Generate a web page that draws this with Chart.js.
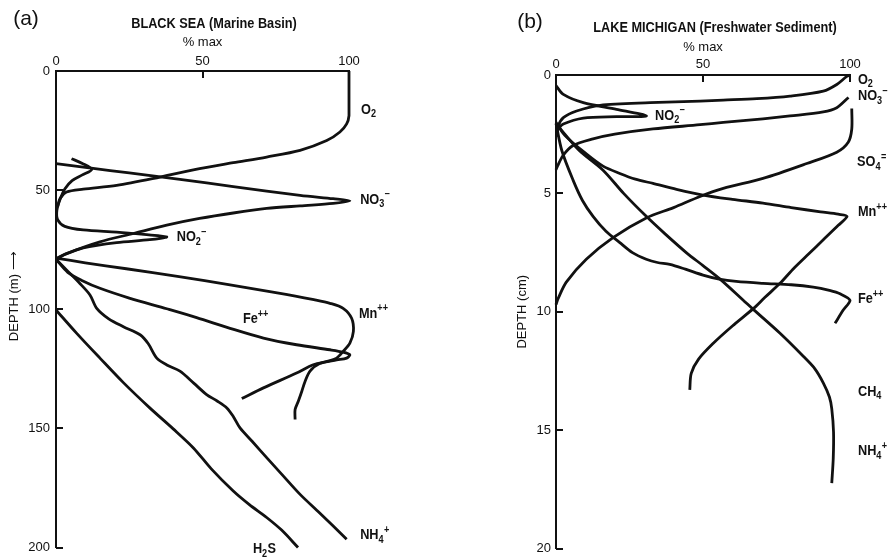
<!DOCTYPE html>
<html><head><meta charset="utf-8">
<script src="https://cdn.jsdelivr.net/npm/chart.js@4/dist/chart.umd.min.js"></script>
<style>
html,body{margin:0;padding:0;background:#fff;}
#wrap{position:relative;width:890px;height:560px;overflow:hidden;background:#fff;}
canvas{position:absolute;top:0;}
#ca{left:0;} #cb{left:445px;}
</style></head><body>
<div id="wrap"><canvas id="ca" width="445" height="560"></canvas><canvas id="cb" width="445" height="560"></canvas></div>
<script>
// ---------- DATA : panel (a) Black Sea, [% max, depth m] ----------
const pctTicks = [0, 50, 100];
const depthTicksA = [0, 50, 100, 150, 200];
const depthTicksB = [0, 5, 10, 15, 20];

const o2A  = [[100,0],[100,10],[100,18.7],[99.2,22.2],[96.9,25.6],[92.4,29.2],[83.3,33.3],[71.9,36.1],[60.5,38.5],[49,41],[35.5,44.5],[20.7,48],[9.3,49.6],[3.6,50.8],[1.4,53.5],[0.5,57]];
const no3A = [[0,38.9],[12,40.8],[25,42.8],[42.3,45.5],[60.5,48.5],[83.3,52.2],[94.6,53.6],[100.3,54.5],[94.6,55.6],[83.3,56.6],[71.9,57.7],[60.5,59.6],[49,61.9],[37.8,64.7],[26.4,68.2],[15,71.7],[3.6,76.6],[0,78.7]];
const no2A = [[5.3,36.8],[9,38.8],[12.2,41.3],[9,43.6],[5.5,46],[3,49.5],[1.5,53.5],[0.3,58.5],[0.6,62.5],[3,65.2],[9.3,66.7],[20.7,67.6],[30,68.6],[37.8,69.6],[32,70.8],[20.7,72],[9.3,74.2],[3,77],[0,79]];
const mnA  = [[0,78.5],[10,80.5],[24,83],[42,86.3],[59.4,89.8],[76.5,93.3],[88,96],[93.5,97.5],[98,99.6],[100.9,103.8],[101.5,109.3],[100.3,114.2],[98,117.7],[95.8,120.5],[93.5,121.6],[87.8,123.3],[82.1,126.8],[70.8,133],[63.4,137.5]];
const feA  = [[0,79],[4,84.5],[9,88],[15,91.2],[25,95.3],[37.8,99.8],[48,103.5],[59.4,108],[70.8,112.1],[82.1,114.9],[93.5,117],[98,118],[100.3,119.1],[99.2,120.5],[95.8,121.3],[90,122.8],[86.7,126],[85,130.3],[83.9,134.4],[82.7,138.6],[81.6,142.1],[81.6,146.3]];
const nh4A = [[0,79],[4,84],[8,89],[11.6,94],[13.9,99.6],[18,104],[23,107.3],[28.7,110.7],[31.5,114.5],[34.4,120.5],[38,123.5],[42.3,126],[47,131],[51.4,135.8],[55,138.5],[58.3,141.4],[60.5,145],[62.8,149.8],[67,155.5],[71.9,162.3],[77,169.2],[83.3,177.7],[90,185.5],[99.2,196.5]];
const h2sA = [[0,100.3],[7,110],[15,120.5],[23,130.8],[32,141.4],[40,150.2],[46.9,158.2],[53,167],[60.5,176.3],[66,182],[71.9,187.4],[77,192.7],[82.6,200]];

// ---------- DATA : panel (b) Lake Michigan, [% max, depth cm] ----------
const o2B  = [[100,0],[98.9,0.06],[95.5,0.4],[90.9,0.68],[79.6,0.89],[68.3,1.0],[56.9,1.06],[49,1.1],[32,1.17],[15,1.28],[7,1.52],[2.5,1.8],[0.8,2.14],[0.2,2.6]];
const no3B = [[99.5,0.95],[95.5,1.38],[90.9,1.56],[79.6,1.73],[70.4,1.85],[56.9,2.0],[49,2.1],[33,2.28],[20,2.5],[12.6,2.7],[5.8,2.98],[2.4,3.4],[0.5,3.85],[0,4.0]];
const no2B = [[0,0.45],[2.5,0.82],[9.3,1.17],[20.6,1.45],[30.8,1.73],[20.6,1.76],[9.3,1.82],[2.5,2.07],[0.5,2.3]];
const so4B = [[100.6,1.42],[100.6,2.28],[99.4,2.84],[95.5,3.26],[85.3,3.74],[70.4,4.37],[56.9,4.79],[49,5.13],[40,5.6],[30.7,6.04],[19.4,6.87],[10.3,7.78],[3.5,8.75],[0.7,9.45],[0,9.7]];
const mnB  = [[0,2.0],[3,2.55],[10.3,3.33],[16,3.85],[21.7,4.16],[27,4.4],[33,4.58],[41,4.83],[50,5.07],[60,5.25],[70.4,5.41],[80,5.6],[90,5.78],[96,5.88],[99,5.97],[96,6.35],[91,6.95],[86,7.55],[81,8.15],[76.2,8.8],[71,9.4],[67.1,9.87],[60,10.6],[53.5,11.33],[48.5,12.0],[46,12.6],[45.5,13.3]];
const feB  = [[0,2.05],[2,3.2],[5.8,4.44],[9,5.3],[12.6,5.97],[17,6.6],[21.7,7.08],[26,7.5],[30.7,7.78],[34.5,7.92],[38.7,8.0],[44,8.2],[50,8.45],[55.5,8.62],[61.3,8.72],[70.4,8.8],[80,8.86],[87.5,8.96],[93,9.1],[96.6,9.24],[100,9.52],[97.7,9.93],[94.9,10.49]];
const nh4B = [[0,2.05],[3,2.5],[8,3.2],[16,4.02],[23,5.0],[30.7,5.97],[37,6.7],[44.3,7.5],[50,8.05],[55.7,8.61],[63.6,9.5],[67.1,9.9],[76.2,10.91],[84.1,11.88],[88,12.4],[90.9,13.0],[93,13.6],[93.8,14.1],[94.4,15.08],[94.3,16.2],[93.8,17.24]];

// ---------- curve labels: text pieces (0 normal, 1 subscript, 2 superscript) at [% max, depth] ----------
const labelsA = [
  {parts:[['O',0],['2',1]], at:[104.1,16.3]},
  {parts:[['NO',0],['3',1],['\u2212',2]], at:[103.8,54]},
  {parts:[['NO',0],['2',1],['\u2212',2]], at:[41.2,69.9]},
  {parts:[['Mn',0],['++',2]], at:[103.4,101.9]},
  {parts:[['Fe',0],['++',2]], at:[63.8,104.2]},
  {parts:[['NH',0],['4',1],['+',2]], at:[103.8,195]},
  {parts:[['H',0],['2',1],['S',0]], at:[67.2,200.8]}
];
const labelsB = [
  {parts:[['O',0],['2',1]], at:[102.7,0.2]},
  {parts:[['NO',0],['3',1],['\u2212',2]], at:[102.7,0.9]},
  {parts:[['NO',0],['2',1],['\u2212',2]], at:[33.7,1.72]},
  {parts:[['SO',0],['4',1],['=',2]], at:[102.4,3.7]},
  {parts:[['Mn',0],['++',2]], at:[102.7,5.81]},
  {parts:[['Fe',0],['++',2]], at:[102.7,9.48]},
  {parts:[['CH',0],['4',1]], at:[102.7,13.4]},
  {parts:[['NH',0],['4',1],['+',2]], at:[102.7,15.9]}
];

const FONT = '"Liberation Sans", Arial, Helvetica, sans-serif';
const INK = '#111';

function drawRich(ctx, parts, x, y, size){
  ctx.save();
  ctx.translate(x, y);
  ctx.scale(0.91, 1);
  ctx.textBaseline = 'middle';
  ctx.textAlign = 'left';
  ctx.fillStyle = INK;
  let cx = 0;
  for (const [t,k] of parts){
    const fs = k ? Math.round(size*0.68) : size;
    ctx.font = 'bold ' + fs + 'px ' + FONT;
    const dy = k === 1 ? size*0.32 : (k === 2 ? -size*0.36 : 0);
    ctx.fillText(t, cx, dy);
    cx += ctx.measureText(t).width + (k===1 ? 0.5 : 0);
  }
  ctx.restore();
}

const panelText = {
  id: 'panelText',
  afterDraw(chart, args, o){
    const {ctx, chartArea} = chart;
    const xs = chart.scales.x, ys = chart.scales.y;
    ctx.save();
    ctx.strokeStyle = INK; ctx.lineWidth = 2;
    xs.ticks.forEach(t => {
      if (t.value === 0) return;
      const px = Math.round(xs.getPixelForValue(t.value));
      ctx.beginPath(); ctx.moveTo(px, chartArea.top); ctx.lineTo(px, chartArea.top + 7); ctx.stroke();
    });
    ys.ticks.forEach(t => {
      if (t.value === 0) return;
      const py = Math.round(ys.getPixelForValue(t.value));
      ctx.beginPath(); ctx.moveTo(chartArea.left, py); ctx.lineTo(chartArea.left + 7, py); ctx.stroke();
    });
    ctx.fillStyle = INK;
    ctx.font = '21px ' + FONT;
    ctx.textAlign = 'center'; ctx.textBaseline = 'middle';
    ctx.fillText(o.letter, o.letterX, o.letterY);
    ctx.save();
    ctx.translate(o.titleX, o.titleY);
    ctx.scale(0.91, 1);
    ctx.font = 'bold 14px ' + FONT;
    ctx.fillText(o.title, 0, 0);
    ctx.restore();
    o.labels.forEach(l => {
      drawRich(ctx, l.parts, xs.getPixelForValue(l.at[0]), ys.getPixelForValue(l.at[1]), 14);
    });
    ctx.restore();
  }
};

function makePanel(id, series, P){
  return new Chart(document.getElementById(id), {
    type: 'scatter',
    data: {
      datasets: series.map(s => ({
        data: s.map(([x,y]) => ({x, y})),
        showLine: true, borderColor: INK, borderWidth: 2.8,
        pointRadius: 0, tension: 0.3, clip: false, fill: false
      }))
    },
    plugins: [panelText],
    options: {
      responsive: false, animation: false, events: [],
      layout: {padding: {left: 0, top: 0, right: P.right, bottom: P.bottom}},
      plugins: {
        legend: {display: false}, tooltip: {enabled: false},
        panelText: {letter: P.letter, letterX: P.letterX, letterY: P.letterY,
                    title: P.title, titleX: P.titleX, titleY: P.titleY, labels: P.labels}
      },
      scales: {
        x: {
          type: 'linear', position: 'top', min: 0, max: 100,
          afterBuildTicks: s => { s.ticks = pctTicks.map(v => ({value: v})); },
          ticks: {color: INK, font: {family: FONT, size: 13, lineHeight: 1}, padding: P.xTickPad, maxRotation: 0},
          grid: {display: true, drawOnChartArea: false, drawTicks: false},
          border: {display: true, color: INK, width: 2},
          title: {display: true, text: '% max', color: INK, font: {family: FONT, size: 13}, padding: {top: P.xTitlePad, bottom: 0}},
          afterFit: s => { s.height = P.top; }
        },
        y: {
          type: 'linear', position: 'left', reverse: true, min: 0, max: P.yMax,
          afterBuildTicks: s => { s.ticks = P.yTicks.map(v => ({value: v})); },
          ticks: {color: INK, font: {family: FONT, size: 13, lineHeight: 1}, padding: P.yTickPad},
          grid: {display: true, drawOnChartArea: false, drawTicks: false},
          border: {display: true, color: INK, width: 2},
          title: {display: true, text: P.yTitle, color: INK, font: {family: FONT, size: 13}, padding: {top: P.yTitlePad, bottom: 0}},
          afterFit: s => { s.width = P.left; }
        }
      }
    }
  });
}

makePanel('ca', [o2A, no3A, no2A, mnA, feA, nh4A, h2sA], {
  left: 56, top: 71, right: 96, bottom: 10,
  yMax: 200, yTicks: depthTicksA,
  xTickPad: 3, xTitlePad: 35, yTickPad: 6, yTitlePad: 7,
  yTitle: '\u2003\u2003DEPTH (m) \u27F6',
  letter: '(a)', letterX: 26, letterY: 19,
  title: 'BLACK SEA (Marine Basin)', titleX: 214, titleY: 24,
  labels: labelsA
});

makePanel('cb', [o2B, no3B, no2B, so4B, mnB, feB, nh4B], {
  left: 111, top: 75, right: 40, bottom: 6,
  yMax: 20, yTicks: depthTicksB,
  xTickPad: 4, xTitlePad: 40, yTickPad: 5, yTitlePad: 70,
  yTitle: 'DEPTH (cm)',
  letter: '(b)', letterX: 85, letterY: 22,
  title: 'LAKE MICHIGAN (Freshwater Sediment)', titleX: 270, titleY: 28,
  labels: labelsB
});
</script>
</body></html>
